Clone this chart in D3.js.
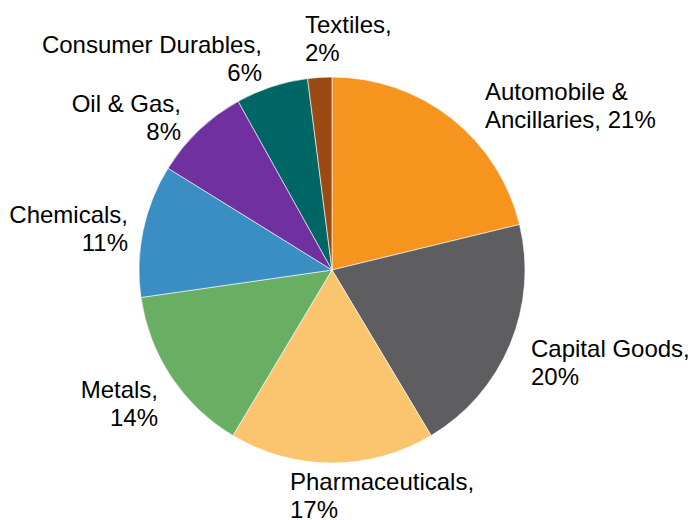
<!DOCTYPE html>
<html>
<head>
<meta charset="utf-8">
<script src="https://cdn.jsdelivr.net/npm/d3@7/dist/d3.min.js"></script>
<style>
  html, body { margin: 0; padding: 0; background: #ffffff; }
  svg { display: block; }
  text { font-family: "Liberation Sans", Arial, Helvetica, sans-serif; fill: #000; }
</style>
</head>
<body>
<svg id="chart" width="691" height="520"></svg>
<script>
// Sector share of the portfolio (%)
const categories = ["Automobile & Ancillaries", "Capital Goods", "Pharmaceuticals", "Metals",
                    "Chemicals", "Oil & Gas", "Consumer Durables", "Textiles"];
const shares = [21, 20, 17, 14, 11, 8, 6, 2];
const colors = ["#F7941D", "#5E5E60", "#FBC46E", "#69AF63", "#3A8EC3", "#7030A0", "#006665", "#9C4A13"];

// Label text lines, split the way they are set beside the pie
const labelLines = [
  ["Automobile &", "Ancillaries, 21%"],
  ["Capital Goods,", "20%"],
  ["Pharmaceuticals,", "17%"],
  ["Metals,", "14%"],
  ["Chemicals,", "11%"],
  ["Oil & Gas,", "8%"],
  ["Consumer Durables,", "6%"],
  ["Textiles,", "2%"]
];

const svg = d3.select("#chart");
const cx = 332, cy = 270, radius = 193;
const lineGap = 28;

// Label anchor points (first baseline) and alignment for each slice
const labelPos = [
  { x: 485, y: 100, anchor: "start" },
  { x: 531, y: 357, anchor: "start" },
  { x: 290, y: 490, anchor: "start" },
  { x: 158, y: 398, anchor: "end" },
  { x: 128, y: 223, anchor: "end" },
  { x: 181, y: 112, anchor: "end" },
  { x: 262, y: 53, anchor: "end" },
  { x: 305, y: 33, anchor: "start" }
];

const pie = d3.pie().sort(null).value(d => d)(shares);
const arc = d3.arc().innerRadius(0).outerRadius(radius);

const g = svg.append("g").attr("transform", `translate(${cx},${cy})`);
g.selectAll("path")
  .data(pie)
  .join("path")
  .attr("d", arc)
  .attr("fill", (d, i) => colors[i])
  .attr("stroke", "#ffffff")
  .attr("stroke-width", 0.6);

const labels = svg.append("g")
  .selectAll("text")
  .data(categories)
  .join("text")
  .attr("x", (d, i) => labelPos[i].x)
  .attr("y", (d, i) => labelPos[i].y)
  .attr("text-anchor", (d, i) => labelPos[i].anchor)
  .attr("font-size", "24px");

labels.each(function(d, i) {
  const t = d3.select(this);
  labelLines[i].forEach((line, j) => {
    t.append("tspan")
      .attr("x", labelPos[i].x)
      .attr("y", labelPos[i].y + j * lineGap)
      .text(line);
  });
});
</script>
</body>
</html>
